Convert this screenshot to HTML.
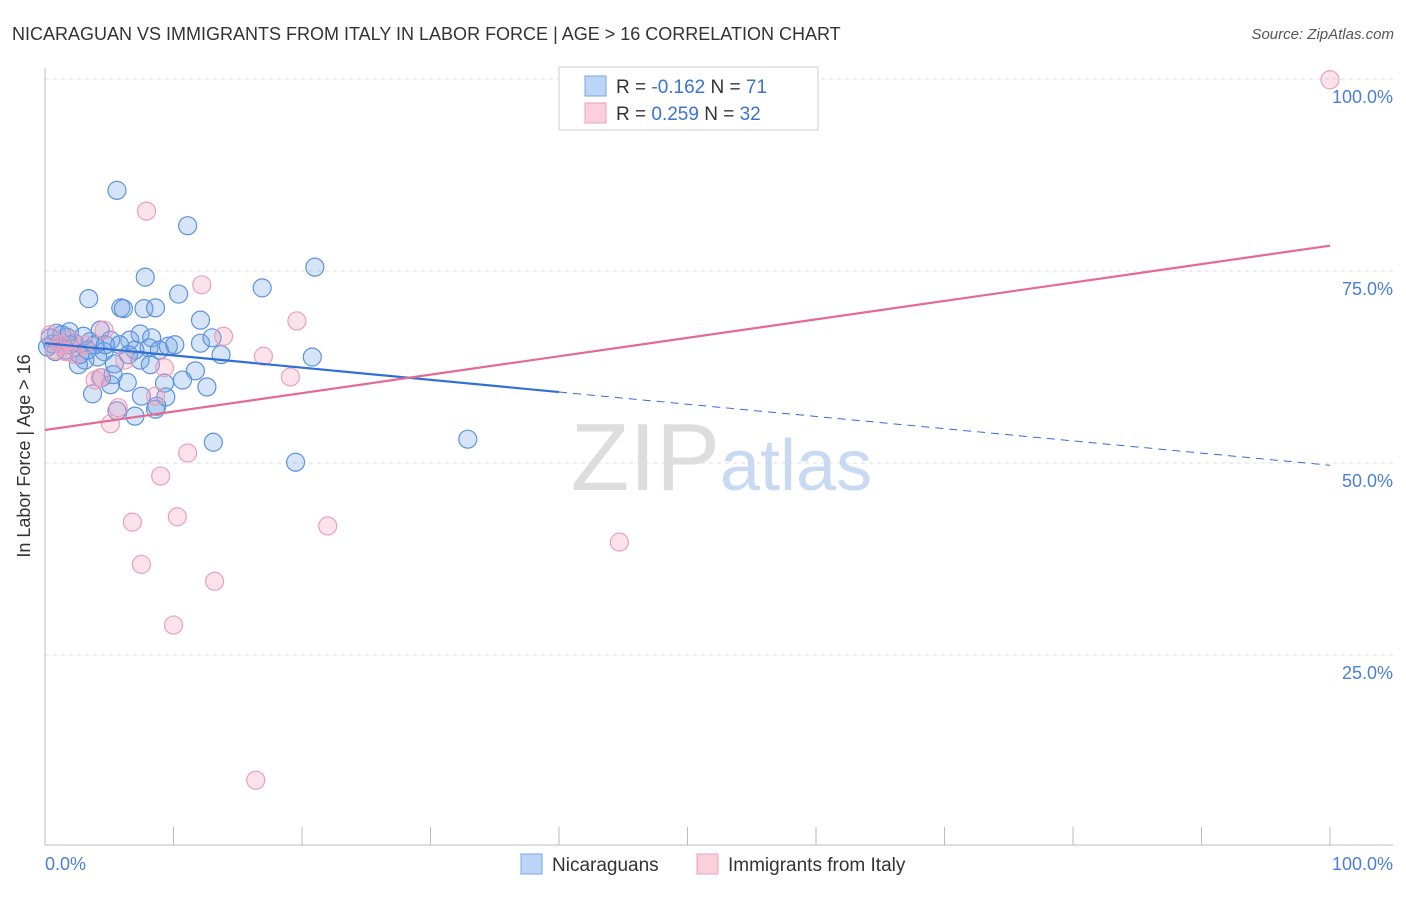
<!DOCTYPE html>
<html><head><meta charset="utf-8"><style>
body{margin:0;background:#fff;font-family:"Liberation Sans",sans-serif}
svg text{font-family:"Liberation Sans",sans-serif}
</style></head><body>
<svg width="1406" height="892" viewBox="0 0 1406 892">
<text x="12" y="40" font-size="18" fill="#333">NICARAGUAN VS IMMIGRANTS FROM ITALY IN LABOR FORCE | AGE &gt; 16 CORRELATION CHART</text>
<text x="1394" y="39" font-size="15" fill="#555" text-anchor="end" font-style="italic">Source: ZipAtlas.com</text>
<g id="grid"></g>
<text x="720" y="490" font-size="96" fill="#ddd" text-anchor="end" font-family="Liberation Serif">ZIP</text>
<text x="720" y="490" font-size="72" fill="#c8daf2">atlas</text>
<line x1="45" y1="68" x2="45" y2="845" stroke="#bbb"/>
<line x1="45" y1="845" x2="1393" y2="845" stroke="#bbb"/>
<text x="30" y="456" font-size="18" fill="#333" text-anchor="middle" transform="rotate(-90 30 456)">In Labor Force | Age &gt; 16</text>
<text x="45" y="870" font-size="18" fill="#4a7fd4">0.0%</text>
<text x="1393" y="870" font-size="18" fill="#4a7fd4" text-anchor="end">100.0%</text>
<g id="marks"></g>
<g id="lines"></g>
<g>
<rect x="559" y="67" width="259" height="63" fill="#fff" stroke="#ccc"/>
<rect x="585" y="76" width="21" height="20" fill="#bcd4f5" stroke="#7aa6e3"/>
<rect x="585" y="103" width="21" height="20" fill="#fbd0dd" stroke="#eda0b9"/>
<text x="616" y="93" font-size="19" fill="#333">R = <tspan fill="#3a73d0">-0.162</tspan>   N = <tspan fill="#3a73d0">71</tspan></text>
<text x="616" y="120" font-size="19" fill="#333">R =  <tspan fill="#3a73d0">0.259</tspan>   N = <tspan fill="#3a73d0">32</tspan></text>
</g>
<g>
<rect x="521" y="854" width="21" height="20" fill="#bcd4f5" stroke="#7aa6e3"/>
<text x="552" y="871" font-size="19" fill="#333">Nicaraguans</text>
<rect x="697" y="854" width="21" height="20" fill="#fbd0dd" stroke="#eda0b9"/>
<text x="728" y="871" font-size="19" fill="#333">Immigrants from Italy</text>
</g>
</svg>
<script>
const yTicks=[25,50,75,100];
const yTickLabels=["25.0%","50.0%","75.0%","100.0%"];
const xTickVals=[0,10,20,30,40,50,60,70,80,90,100];
const blueX=[5.6,11.1,21.0,16.9,7.8,10.4,3.4,5.9,6.1,7.7,8.6,12.1,7.4,4.3,0.9,0.4,1.7,2.3,3.5,5.1,6.6,8.3,9.6,12.1,13.0,8.1,7.0,4.6,5.4,4.1,3.1,2.6,1.9,1.2,0.2,13.7,20.8,11.7,10.7,12.6,9.3,6.4,5.1,4.4,3.7,7.5,9.4,8.6,8.7,5.6,7.0,13.1,19.5,32.9,2.7,1.6,0.6,3.9,5.8,8.9,10.1,6.5,7.4,1.3,1.9,3.3,4.7,8.2,5.3,0.8,3.0];
const blueY=[85.5,80.9,75.5,72.8,74.2,72.0,71.4,70.2,70.1,70.1,70.2,68.6,66.8,67.3,66.9,66.3,66.4,65.6,65.8,66.0,66.0,66.3,65.2,65.6,66.3,65.0,64.7,64.5,62.9,63.8,63.4,62.8,65.4,65.4,65.1,64.1,63.8,62.0,60.8,59.9,60.4,60.5,60.2,61.1,59.0,58.7,58.6,57.0,57.4,56.8,56.1,52.7,50.1,53.1,64.1,64.7,65.5,65.4,65.4,64.7,65.4,64.1,63.4,66.7,67.1,64.7,65.4,62.8,61.5,64.5,66.5];
const pinkX=[100,7.9,12.2,19.6,13.9,4.6,17.0,19.1,9.3,6.2,3.9,4.3,8.6,5.7,5.1,11.1,9.0,6.8,10.3,22.0,44.7,7.5,13.2,10.0,16.4,0.4,0.8,1.2,2.3,3.1,1.9,1.6];
const pinkY=[99.9,82.8,73.2,68.5,66.5,67.3,63.9,61.2,62.4,63.4,60.8,61.1,58.7,57.2,55.1,51.3,48.3,42.3,43.0,41.8,39.7,36.8,34.6,28.9,8.7,66.7,64.7,65.4,64.1,65.4,66.0,64.5];
const blueTrend=[65.6,49.7];
const blueSolidEnd=40;
const pinkTrend=[54.3,78.3];
const sx=v=>45+v*12.85, sy=v=>847-v*7.68;
const NS="http://www.w3.org/2000/svg";
function mk(t,a){const e=document.createElementNS(NS,t);for(const k in a)e.setAttribute(k,a[k]);return e;}
const grid=document.getElementById('grid');
yTicks.forEach((v,i)=>{
  const l=mk('line',{x1:45,x2:1393,y1:sy(v),y2:sy(v),stroke:'#ddd','stroke-dasharray':'4,4'});
  
  
  grid.appendChild(l);
  const t=mk('text',{x:1393,y:sy(v)+24,'font-size':18,fill:'#4a7fd4','text-anchor':'end'});
  t.textContent=yTickLabels[i];
  
  
  grid.appendChild(t);
});
xTickVals.forEach(v=>{
  const l=mk('line',{x1:sx(v),x2:sx(v),y1:827,y2:845,stroke:'#bbb'});
  
  
  grid.appendChild(l);
});
const marks=document.getElementById('marks');
blueX.forEach((x,i)=>{
  const c=mk('circle',{cx:sx(x),cy:sy(blueY[i]),r:9,fill:'rgba(120,165,230,0.3)',stroke:'#5d92dc','stroke-width':1.2});
  
  
  marks.appendChild(c);
});
pinkX.forEach((x,i)=>{
  const c=mk('circle',{cx:sx(x),cy:sy(pinkY[i]),r:9,fill:'rgba(245,160,190,0.3)',stroke:'#eaa0ba','stroke-width':1.2});
  
  
  marks.appendChild(c);
});
const lines=document.getElementById('lines');
const by=x=>blueTrend[0]+(blueTrend[1]-blueTrend[0])*x/100;
let l1=mk('line',{x1:sx(0),y1:sy(by(0)),x2:sx(blueSolidEnd),y2:sy(by(blueSolidEnd)),stroke:'#2f6fd6','stroke-width':2.2});


lines.appendChild(l1);
let l2=mk('line',{x1:sx(blueSolidEnd),y1:sy(by(blueSolidEnd)),x2:sx(100),y2:sy(by(100)),stroke:'#2f6fd6','stroke-width':1,'stroke-dasharray':'8,6'});


lines.appendChild(l2);
let l3=mk('line',{x1:sx(0),y1:sy(pinkTrend[0]),x2:sx(100),y2:sy(pinkTrend[1]),stroke:'#e46a95','stroke-width':2.2});


lines.appendChild(l3);
</script>
</body></html>
